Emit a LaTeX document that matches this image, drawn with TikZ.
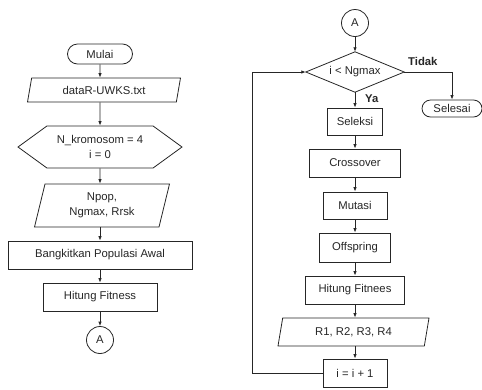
\documentclass[tikz,border=0pt]{standalone}
\usepackage{fontspec}
\setmainfont{Liberation Sans}
\usetikzlibrary{shapes.geometric,shapes.misc,shapes.symbols,arrows.meta}
\begin{document}
\begin{tikzpicture}[x=1bp,y=-1bp,
  ink/.style={draw=black!85, line width=0.8bp},
  every node/.style={font=\fontsize{11.3bp}{15bp}\selectfont, text=black!85, inner sep=0pt, align=center},
  box/.style={ink, rectangle, minimum height=28bp},
  term/.style={ink, rounded rectangle},
  io/.style={ink, trapezium, trapezium stretches body=true},
  prep/.style={ink, signal, signal to=west and east, signal pointer angle=72},
  decision/.style={rectangle, minimum width=98bp, minimum height=40bp},
  conn/.style={ink, circle, minimum size=27bp},
  flow/.style={draw=black!85, line width=0.8bp, -{Latex[length=4.5bp,width=3.5bp]}},
  lbl/.style={font=\fontsize{11.3bp}{15bp}\selectfont\bfseries, anchor=west}
]
\useasboundingbox (0,0) rectangle (482,389);

% initialisation column
\node[term, minimum width=65bp, minimum height=20bp] (mulai) at (100,54) {Mulai};
\node[io, trapezium left angle=63.4, trapezium right angle=116.6,
      minimum width=153bp, minimum height=24bp] (data) at (104,90) {dataR-UWKS.txt};
\node[prep, minimum width=164bp, minimum height=42bp] (init) at (100,147) {N\_kromosom = 4\\i = 0};
\node[io, trapezium left angle=67.3, trapezium right angle=112.7,
      minimum width=135bp, minimum height=43bp] (param) at (102,205.5) {Npop,\\Ngmax, Rrsk};
\node[box, minimum width=184bp] (bangkit) at (100,255) {Bangkitkan Populasi Awal};
\node[box, minimum width=114bp] (fit) at (100,297) {Hitung Fitness};
\node[conn] (a1) at (100,340) {A};

\draw[flow] (mulai) -- (mulai.south |- data.north);
\draw[flow] (mulai.south |- data.south) -- (init);
\draw[flow] (init) -- (init.south |- param.north);
\draw[flow] (init.south |- param.south) -- (bangkit);
\draw[flow] (bangkit) -- (fit);
\draw[flow] (fit) -- (a1);

% generation loop column
\node[conn] (a2) at (355,23) {A};
% decision: the diamond joins the side midpoints of the node's box
\node[decision] (cek) at (355,72) {i < Ngmax};
\draw[ink] (cek.north) -- (cek.east) -- (cek.south) -- (cek.west) -- cycle;
\node[term, minimum width=60bp, minimum height=17bp] (selesai) at (452,108.5) {Selesai};
\node[box, minimum width=55bp, minimum height=27bp] (seleksi) at (355,121.5) {Seleksi};
\node[box, minimum width=91bp] (cross) at (355,163) {Crossover};
\node[box, minimum width=64bp, minimum height=27bp] (mutasi) at (355,205.5) {Mutasi};
\node[box, minimum width=71bp, minimum height=29bp] (off) at (355,247.5) {Offspring};
\node[box, minimum width=99bp] (fit2) at (355,290) {Hitung Fitnees};
\node[io, trapezium left angle=63.4, trapezium right angle=116.6,
      minimum width=151bp, minimum height=28bp] (out) at (353.5,332) {R1, R2, R3, R4};
\node[box, minimum width=64bp] (inc) at (355,373) {i = i + 1};

\node[lbl] (tidak) at (408,61) {Tidak};
\node[lbl] (ya) at (365,99) {Ya};
\coordinate (back) at (252,72);

\draw[flow] (a2) -- (cek.north);
\draw[flow] (cek.east) -| (selesai.north);
\draw[flow] (cek.south) -- (seleksi);
\draw[flow] (seleksi) -- (cross);
\draw[flow] (cross) -- (mutasi);
\draw[flow] (mutasi) -- (off);
\draw[flow] (off) -- (fit2);
\draw[flow] (fit2) -- (fit2.south |- out.north);
\draw[flow] (fit2.south |- out.south) -- (inc);
\draw[flow] (inc.west) -- (inc.west -| back) -- (back) -- (cek.west);
\end{tikzpicture}
\end{document}
